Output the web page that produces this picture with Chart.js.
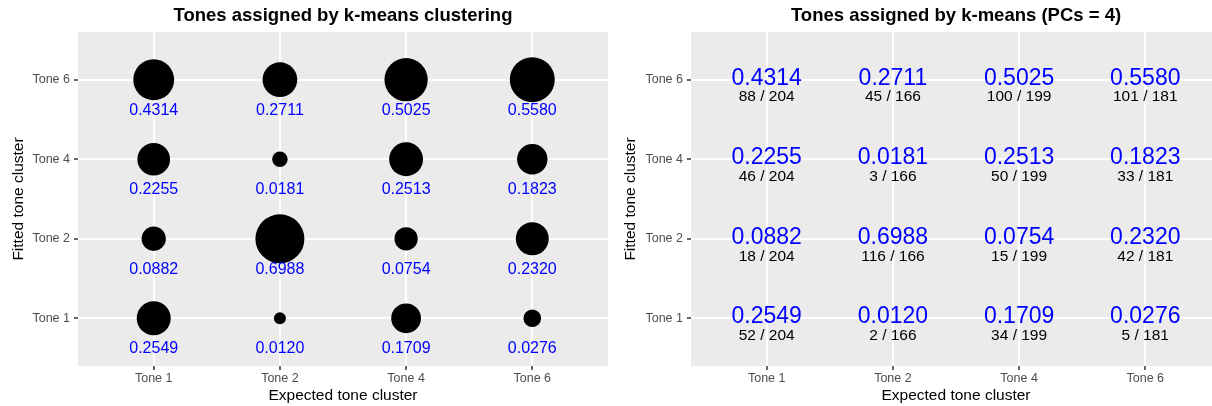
<!DOCTYPE html>
<html>
<head>
<meta charset="utf-8">
<script src="https://cdn.jsdelivr.net/npm/chart.js@4"></script>
<style>
  html, body { margin: 0; padding: 0; background: #ffffff; width: 1212px; height: 406px; overflow: hidden; position: relative; }
  canvas { position: absolute; top: 0; }
  #clusterBubbles { left: 0; }
  #clusterCounts { left: 606px; }
</style>
</head>
<body>
<canvas id="clusterBubbles" width="608" height="406"></canvas>
<canvas id="clusterCounts" width="615" height="406"></canvas>
<script>
// Categories on both axes
const expectedTones = ['Tone 1', 'Tone 2', 'Tone 4', 'Tone 6'];
const fittedTones = ['Tone 1', 'Tone 2', 'Tone 4', 'Tone 6'];

// Share of each expected tone assigned to each fitted tone (Tone 1, Tone 2, Tone 4, Tone 6)
const shareTone1 = [0.2549, 0.0882, 0.2255, 0.4314];
const shareTone2 = [0.0120, 0.6988, 0.0181, 0.2711];
const shareTone4 = [0.1709, 0.0754, 0.2513, 0.5025];
const shareTone6 = [0.0276, 0.2320, 0.1823, 0.5580];

// Token counts behind those shares
const countTone1 = [52, 18, 46, 88];
const countTone2 = [2, 116, 3, 45];
const countTone4 = [34, 15, 50, 100];
const countTone6 = [5, 42, 33, 101];
const totals = [204, 166, 199, 181];

const shares = [shareTone1, shareTone2, shareTone4, shareTone6];
const counts = [countTone1, countTone2, countTone4, countTone6];

const FONT = "'Liberation Sans', Arial, sans-serif";

// one record per (expected, fitted) cell
const cells = [];
shares.forEach((col, i) => col.forEach((v, j) => {
  cells.push({ x: i + 1, y: j + 1, share: v, count: counts[i][j], total: totals[i] });
}));

// bubble diameter grows with the square root of the rescaled share
const allShares = shares.flat();
const sMin = Math.min(...allShares), sMax = Math.max(...allShares);
const bubbleRadius = v => (12 + 37 * Math.sqrt((v - sMin) / (sMax - sMin))) / 2;

const panelBg = {
  id: 'panelBg',
  beforeDraw(chart) {
    const { ctx, chartArea: a } = chart;
    ctx.save();
    ctx.fillStyle = '#ebebeb';
    ctx.fillRect(a.left, a.top, a.right - a.left, a.bottom - a.top);
    ctx.restore();
  }
};

function textLayer(lines) {
  return {
    id: 'textLayer',
    afterDatasetsDraw(chart) {
      const { ctx, scales: { x, y } } = chart;
      ctx.save();
      ctx.textAlign = 'center';
      ctx.textBaseline = 'middle';
      lines.forEach(l => {
        ctx.font = l.font;
        ctx.fillStyle = l.color;
        cells.forEach(c => {
          ctx.fillText(l.text(c), x.getPixelForValue(c.x), y.getPixelForValue(c.y + l.dy));
        });
      });
      ctx.restore();
    }
  };
}

function gridOpts() {
  return { color: '#ffffff', lineWidth: 2, tickColor: '#333333', tickLength: 4, tickWidth: 1.5 };
}

function makeScales(yAxisWidth, yTitlePad) {
  return {
    x: {
      type: 'linear', position: 'bottom', min: 0.4, max: 4.6,
      grid: gridOpts(), border: { display: false },
      afterBuildTicks: s => { s.ticks = expectedTones.map((_, i) => ({ value: i + 1 })); },
      afterFit: s => { s.height = 40; },
      ticks: { callback: (v, i) => expectedTones[i], color: '#4d4d4d', font: { family: FONT, size: 12.5 }, padding: 1, autoSkip: false, maxRotation: 0 },
      title: { display: true, text: 'Expected tone cluster', color: '#000000', font: { family: FONT, size: 15.5 }, padding: { top: 0, bottom: 1.2 } }
    },
    y: {
      type: 'linear', position: 'left', min: 0.4, max: 4.6,
      grid: gridOpts(), border: { display: false },
      afterBuildTicks: s => { s.ticks = fittedTones.map((_, i) => ({ value: i + 1 })); },
      afterFit: s => { s.width = yAxisWidth; },
      ticks: { callback: (v, i) => fittedTones[i], color: '#4d4d4d', font: { family: FONT, size: 12.5 }, padding: 4, autoSkip: false },
      title: { display: true, text: 'Fitted tone cluster', color: '#000000', font: { family: FONT, size: 15.5 }, padding: { top: yTitlePad, bottom: 0 } }
    }
  };
}

function titleOpts(text) {
  return {
    display: true, text, fullSize: false, color: '#000000',
    font: { family: FONT, size: 18.5, weight: 'bold' },
    padding: { top: 5, bottom: 4.8 }
  };
}

// Left: bubble per cell, share printed underneath
new Chart(document.getElementById('clusterBubbles'), {
  type: 'bubble',
  data: {
    datasets: [{
      data: cells.map(c => ({ x: c.x, y: c.y, r: bubbleRadius(c.share) })),
      backgroundColor: '#000000', borderWidth: 0
    }]
  },
  options: {
    responsive: false, animation: false, events: [],
    layout: { padding: 0, autoPadding: false },
    plugins: { legend: { display: false }, tooltip: { enabled: false }, title: titleOpts('Tones assigned by k-means clustering') },
    scales: makeScales(78, 9.2)
  },
  plugins: [panelBg, textLayer([
    { text: c => c.share.toFixed(4), font: `16px ${FONT}`, color: '#0000ff', dy: -0.386 }
  ])]
});

// Right: share and raw count per cell
new Chart(document.getElementById('clusterCounts'), {
  type: 'scatter',
  data: {
    datasets: [{ data: cells.map(c => ({ x: c.x, y: c.y })), pointRadius: 0 }]
  },
  options: {
    responsive: false, animation: false, events: [],
    layout: { padding: 0, autoPadding: false },
    plugins: { legend: { display: false }, tooltip: { enabled: false }, title: titleOpts('Tones assigned by k-means (PCs = 4)') },
    scales: makeScales(85, 15.7)
  },
  plugins: [panelBg, textLayer([
    { text: c => c.share.toFixed(4), font: `23px ${FONT}`, color: '#0000ff', dy: 0.016 },
    { text: c => `${c.count} / ${c.total}`, font: `15.5px ${FONT}`, color: '#000000', dy: -0.22 }
  ])]
});
</script>
</body>
</html>
